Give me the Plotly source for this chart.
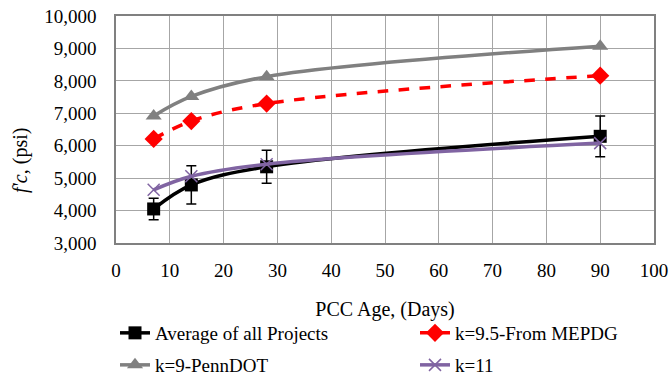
import plotly.graph_objects as go

days = [7, 14, 28, 90]
avg_projects = [4050, 4790, 5350, 6290]
avg_err = [330, 590, 510, 630]
k95_mepdg = [6210, 6760, 7300, 8160]
k9_penndot = [6920, 7520, 8130, 9070]
k11 = [4640, 5060, 5430, 6080]

x_ticks = list(range(0, 101, 10))
y_ticks = list(range(3000, 10001, 1000))

FONT = "Liberation Serif"

fig = go.Figure()

fig.add_trace(go.Scatter(
    x=days, y=avg_projects, mode="lines+markers", name="Average of all Projects",
    line=dict(color="black", width=3.5, shape="spline"),
    marker=dict(symbol="square", size=13, color="black"),
    error_y=dict(type="data", array=avg_err, color="black", thickness=1.5, width=5),
    legend="legend",
))
fig.add_trace(go.Scatter(
    x=days, y=k95_mepdg, mode="lines+markers", name="k=9.5-From MEPDG",
    line=dict(color="#FF0000", width=3.5, dash="dash", shape="spline"),
    marker=dict(symbol="diamond", size=14, color="#FF0000"),
    legend="legend2",
))
fig.add_trace(go.Scatter(
    x=days, y=k9_penndot, mode="lines+markers", name="k=9-PennDOT",
    line=dict(color="#808080", width=3.5, shape="spline"),
    marker=dict(symbol="triangle-up", size=14, color="#808080"),
    legend="legend3",
))
fig.add_trace(go.Scatter(
    x=days, y=k11, mode="lines+markers", name="k=11",
    line=dict(color="#8064A2", width=3.5, shape="spline"),
    marker=dict(symbol="x-thin", size=12, line=dict(color="#8064A2", width=1.5)),
    legend="legend4",
))

leg_common = dict(
    orientation="v", xref="container", yref="container",
    xanchor="left", yanchor="middle",
    font=dict(family=FONT, size=19, color="black"),
    bgcolor="rgba(0,0,0,0)", borderwidth=0,
)
col1, col2 = 115 / 671, 415 / 671
row1, row2 = 1 - 333 / 377, 1 - 365 / 377

fig.update_layout(
    width=671, height=377,
    margin=dict(l=116, r=17, t=16, b=134, autoexpand=False),
    paper_bgcolor="white", plot_bgcolor="white",
    font=dict(family=FONT, size=19, color="black"),
    showlegend=True,
    legend=dict(leg_common, x=col1, y=row1),
    legend2=dict(leg_common, x=col2, y=row1),
    legend3=dict(leg_common, x=col1, y=row2),
    legend4=dict(leg_common, x=col2, y=row2),
    xaxis=dict(
        range=[0, 100], tickvals=x_ticks, ticktext=[str(v) for v in x_ticks],
        showgrid=True, gridcolor="#A6A6A6", gridwidth=1,
        showline=True, linecolor="#808080", linewidth=1.5, mirror=True,
        ticks="", zeroline=False, ticklabelstandoff=9,
        tickfont=dict(family=FONT, size=19),
        title=dict(text="PCC Age, (Days)", font=dict(family=FONT, size=20), standoff=22),
    ),
    yaxis=dict(
        range=[3000, 10000], tickvals=y_ticks, tickformat=",",
        showgrid=True, gridcolor="#A6A6A6", gridwidth=1,
        showline=True, linecolor="#808080", linewidth=1.5, mirror=True,
        ticks="", zeroline=False, ticklabelstandoff=14,
        tickfont=dict(family=FONT, size=19),
    ),
    annotations=[dict(
        text="<i>f'c</i>, (psi)", xref="paper", yref="paper",
        x=(20 - 116) / 538, y=(243 - 161) / 227, xanchor="center", yanchor="middle",
        textangle=-90, showarrow=False, font=dict(family=FONT, size=20, color="black"),
    )],
)

fig.write_html("out.html")
